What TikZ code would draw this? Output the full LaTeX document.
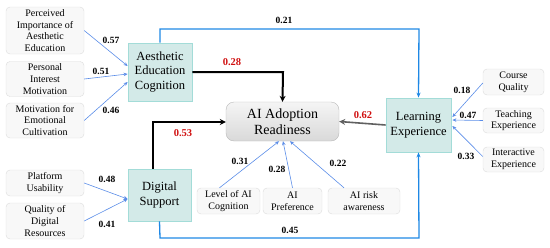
\documentclass[tikz,border=0pt]{standalone}
\usepackage{fontspec}
\setmainfont{Liberation Serif}
\newfontfamily\tnr{Liberation Serif}
\usetikzlibrary{arrows.meta,calc}
\definecolor{tealfill}{HTML}{D3EAE8}
\definecolor{tealline}{HTML}{A3DCD8}
\definecolor{indfill}{HTML}{F8F8F8}
\definecolor{indline}{HTML}{DCDCDC}
\definecolor{busblue}{HTML}{1E88E5}
\definecolor{thinblue}{HTML}{5B8DE8}
\definecolor{redlab}{HTML}{D01010}
\begin{document}
\begin{tikzpicture}[x=1pt,y=-1pt,
  ind/.style={draw=indline, fill=indfill, rounded corners=4pt, align=center, inner sep=0pt,
    font=\tnr\fontsize{10}{11.8}\selectfont},
  lat/.style={draw=tealline, fill=tealfill, align=center, inner sep=0pt, line width=0.8pt,
    font=\tnr\fontsize{12.5}{14.5}\selectfont},
  thin/.style={draw=thinblue, line width=0.6pt, -{Stealth[length=4pt,width=3.5pt]}},
  bus/.style={draw=busblue, line width=1.3pt, -{Stealth[length=5pt,width=4pt]}},
  thick/.style={draw=black, line width=2pt, -{Stealth[length=6pt,width=6pt]}},
  lab/.style={font=\tnr\bfseries\fontsize{9.5}{10}\selectfont, inner sep=0pt},
  rlab/.style={font=\tnr\bfseries\fontsize{10.5}{12}\selectfont, text=redlab, inner sep=0pt}]
\useasboundingbox (0,0) rectangle (550,247);
% left indicators
\node[ind, minimum width=78, minimum height=47] (pi) at (45,30.5) {Perceived\\Importance of\\Aesthetic\\Education};
\node[ind, minimum width=78, minimum height=35] (pm) at (45,79) {Personal\\Interest\\Motivation};
\node[ind, minimum width=78, minimum height=35] (me) at (45,120.5) {Motivation for\\Emotional\\Cultivation};
\node[ind, minimum width=78, minimum height=26] (pu) at (45,183) {Platform\\Usability};
\node[ind, minimum width=78, minimum height=36] (qd) at (45,221) {Quality of\\Digital\\Resources};
% latent
\node[lat, minimum width=64, minimum height=58] (aec) at (160,72) {Aesthetic\\Education\\Cognition};
\node[lat, minimum width=63, minimum height=52] (ds) at (159.5,195) {Digital\\Support};
\node[lat, minimum width=65, minimum height=54] (le) at (418.5,125) {Learning\\Experience};
\node[draw=gray!55, top color=gray!8, bottom color=gray!30, rounded corners=8pt, minimum width=113, minimum height=39,
  align=center, inner sep=0pt, font=\tnr\fontsize{14}{16}\selectfont] (ai) at (282.5,121.5) {AI Adoption\\Readiness};
% right indicators
\node[ind, minimum width=61, minimum height=26] (cq) at (513.5,82) {Course\\Quality};
\node[ind, minimum width=61, minimum height=25] (te) at (513.5,120.5) {Teaching\\Experience};
\node[ind, minimum width=61, minimum height=25] (ie) at (513.5,159.5) {Interactive\\Experience};
% bottom indicators
\node[ind, minimum width=63, minimum height=26] (lc) at (228.5,201) {Level of AI\\Cognition};
\node[ind, minimum width=59, minimum height=26] (ap) at (292.5,201) {AI\\Preference};
\node[ind, minimum width=72, minimum height=26] (ar) at (364,201) {AI risk\\awareness};
% thin arrows left
\draw[thin] (pi.east) -- ($(aec.west)+(0,-6)$);
\draw[thin] (pm.east) -- ($(aec.west)+(0,2)$);
\draw[thin] (me.east) -- ($(aec.west)+(0,10)$);
\draw[thin] (pu.east) -- ($(ds.west)+(0,4)$);
\draw[thin] (qd.east) -- ($(ds.west)+(0,4)$);
% thin arrows bottom
\draw[thin] ($(lc.north)+(-9,0)$) -- ($(ai.south)+(-3.5,0)$);
\draw[thin] (ap.north) -- ($(ai.south)+(0.5,0)$);
\draw[thin] ($(ar.north)+(-20,0)$) -- ($(ai.south)+(7.5,0)$);
% thin arrows right
\draw[thin] ($(cq.west)+(0,1)$) -- ($(le.east)+(1,-8)$);
\draw[thin] (te.west) -- ($(le.east)+(1,-5)$);
\draw[thin] ($(ie.west)+(0,-3)$) -- ($(le.east)+(1,1)$);
% blue buses
\coordinate (t1) at (160,29);
\coordinate (t2) at (419,29);
\draw[bus] (aec.north) -- (t1) -- (t2) -- (le.north);
\coordinate (b1) at (160,238);
\coordinate (b2) at (419,238);
\draw[bus] (ds.south) -- (b1) -- (b2) -- (le.south);
% thick black
\coordinate (k1) at (283,72);
\draw[thick] (aec.east) -- (k1) -- (ai.north);
\coordinate (k2) at (153,122);
\draw[thick] (ds.north -| k2) -- (k2) -- (k2 -| ai.west);
\draw[draw=gray!75!black, line width=1.6pt, -{Stealth[length=6pt,width=6pt]}] (le.west) -- (ai.east);
% labels
\node[lab] (l57) at (111,40) {0.57};
\node[lab] (l51) at (101,71) {0.51};
\node[lab] (l46) at (111,110) {0.46};
\node[lab] (l48) at (107,179) {0.48};
\node[lab] (l41) at (107,224) {0.41};
\node[lab] (l21) at (284,20) {0.21};
\node[lab] (l45) at (290,230) {0.45};
\node[lab] (l31) at (240,161) {0.31};
\node[lab] (l28b) at (277,169) {0.28};
\node[lab] (l22) at (338,163) {0.22};
\node[lab] (l18) at (462,90) {0.18};
\node[lab] (l47) at (468,115) {0.47};
\node[lab] (l33) at (466,156) {0.33};
\node[rlab] (l28) at (232,62) {0.28};
\node[rlab] (l53) at (183,133) {0.53};
\node[rlab] (l62) at (363,115) {0.62};
\end{tikzpicture}
\end{document}
